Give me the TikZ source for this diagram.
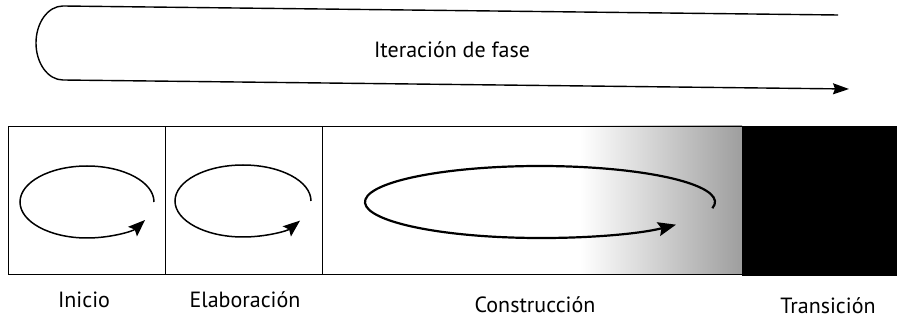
\documentclass[tikz,border=0pt]{standalone}
\usepackage{fontspec}
\setmainfont{PT Sans}
\usetikzlibrary{arrows.meta}
\begin{document}
\begin{tikzpicture}[x=1pt,y=-1pt,
  lbl/.style={inner sep=0pt,font=\fontsize{22}{24}\selectfont},
  boxline/.style={draw=black,line width=1.4pt},
  loop/.style={line width=1.5pt,-{Stealth[length=17pt,width=13pt,inset=3pt]}},
  bigloop/.style={line width=2.2pt,-{Stealth[length=18pt,width=14pt,inset=3pt]}},
  topline/.style={line width=1.4pt,-{Stealth[length=16pt,width=11pt,inset=2pt]}}]
\useasboundingbox (0,0) rectangle (897,320);
% top phase loop
\coordinate (tstart) at (838,15);
\coordinate (tleft) at (63,6);
\coordinate (tend) at (849,89);
\draw[topline] (tstart) -- (tleft)
  arc[start angle=-90,end angle=-270,x radius=27,y radius=37] -- (tend);
\node[lbl] (iter) at (452,50) {Iteración de fase};
% phase boxes
\fill[white] (322,126) rectangle (742,274);
\shade[left color=white,right color=black!38] (580,126) rectangle (742,274);
\node[fill=black,minimum width=155pt,minimum height=150pt,inner sep=0pt,anchor=north west] (trans) at (742,126) {};
\node[boxline,minimum width=157pt,minimum height=148pt,inner sep=0pt,anchor=north west] (ini) at (8,126) {};
\node[boxline,minimum width=157pt,minimum height=148pt,inner sep=0pt,anchor=north west] (ela) at (165,126) {};
\node[boxline,minimum width=420pt,minimum height=148pt,inner sep=0pt,anchor=north west] (con) at (322,126) {};
% iteration loops
\draw[loop] (87,202) ++(0:67 and 36)
  arc[start angle=0,end angle=-330,x radius=67,y radius=36];
\draw[loop] (243,201) ++(0:68 and 36)
  arc[start angle=0,end angle=-327,x radius=68,y radius=36];
\draw[bigloop] (540,202) ++(10:175 and 36)
  arc[start angle=10,end angle=-321,x radius=175,y radius=36];
% labels
\node[lbl] (lini) at (84,300) {Inicio};
\node[lbl] (lela) at (245,300) {Elaboración};
\node[lbl] (lcon) at (535,305) {Construcción};
\node[lbl] (ltra) at (828,306) {Transición};
\end{tikzpicture}
\end{document}
